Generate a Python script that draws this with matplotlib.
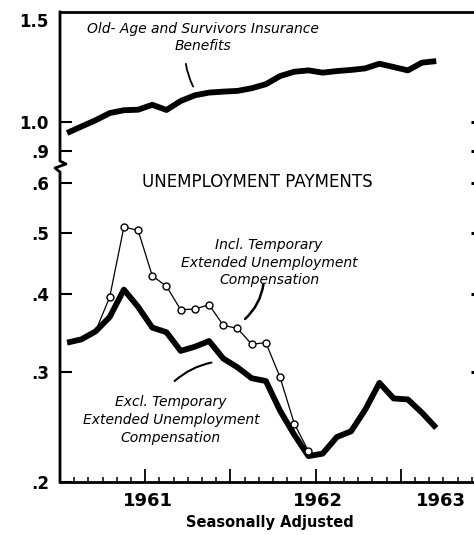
import numpy as np
import matplotlib
matplotlib.use('Agg')
import matplotlib.pyplot as plt
import matplotlib.transforms as mtransforms

# monthly values, billions of dollars, Jan 1961 .. Mar 1963
months = np.arange(27)
oasi = [0.961, 0.984, 1.007, 1.034, 1.045, 1.047, 1.066, 1.046, 1.081, 1.104,
        1.115, 1.119, 1.122, 1.133, 1.150, 1.185, 1.204, 1.210, 1.200, 1.207,
        1.212, 1.219, 1.240, 1.225, 1.210, 1.245, 1.252]
excl_teuc = [0.334, 0.338, 0.348, 0.367, 0.406, 0.381, 0.353, 0.347, 0.324, 0.329,
             0.336, 0.315, 0.305, 0.293, 0.290, 0.260, 0.238, 0.220, 0.222, 0.236,
             0.241, 0.261, 0.288, 0.272, 0.271, 0.258, 0.244]
# incl. temporary extended compensation, Mar 1961 .. Jun 1962
incl_months = np.arange(2, 18)
incl_teuc = [0.348, 0.395, 0.511, 0.505, 0.427, 0.411, 0.377, 0.378, 0.384, 0.356,
             0.352, 0.332, 0.334, 0.294, 0.248, 0.224]

y_ticks = [0.2, 0.3, 0.4, 0.5, 0.6, 0.9, 1.0]
y_labels = ['.2', '.3', '.4', '.5', '.6', '.9', '1.0']
years = ['1961', '1962', '1963']
year_pos = [5.7, 17.7, 26.3]

# broken log scale: squeeze the range between .62 and .88
lo, hi, gw = np.log10(0.62), np.log10(0.88), 0.02815
L_pts = [-6, lo, hi, 6]
F_pts = [-6, lo, lo + gw, lo + gw + 6 - hi]

def fwd(y):
    return np.interp(np.log10(np.clip(y, 1e-6, None)), L_pts, F_pts)

def inv(f):
    return 10 ** np.interp(f, F_pts, L_pts)

plt.rcParams['font.family'] = 'DejaVu Sans'
fig = plt.figure(figsize=(4.74, 5.35), dpi=100)
ax = fig.add_axes([60 / 474, 53 / 535, 414 / 474, 470 / 535])
ax.set_yscale('function', functions=(fwd, inv))
ax.set_ylim(0.2, 1.5)
ax.set_xlim(-0.25, 28.66)

ax.plot(months, oasi, color='black', lw=4.2, solid_joinstyle='round', solid_capstyle='butt')
ax.plot(months, excl_teuc, color='black', lw=4.2, solid_joinstyle='round', solid_capstyle='butt')
ax.plot(incl_months[1:], incl_teuc[1:], color='black', lw=0.9, marker='o', ms=5,
        mfc='white', mec='black', mew=1.0, zorder=3)
ax.plot(incl_months[:2], incl_teuc[:2], color='black', lw=0.9)

# spines
for s in ['right', 'left']:
    ax.spines[s].set_visible(False)
ax.spines['top'].set_linewidth(2)
ax.spines['bottom'].set_linewidth(2)
zx = np.array([0, 0, -5, 6, 0, 0]) / 414
zy = (482 - np.array([482, 172, 168, 164, 161, 12])) / 470
ax.plot(zx, zy, color='black', lw=2, transform=ax.transAxes, clip_on=False)

# y ticks
ax.set_yticks(y_ticks, y_labels)
ax.yaxis.set_minor_locator(matplotlib.ticker.NullLocator())
ax.tick_params(axis='y', direction='in', length=8.5, width=1.5, pad=8,
               labelsize=12)
for t in ax.get_yticklabels():
    t.set_fontweight('bold')
ax.annotate('1.5', xy=(0, 1.5), xycoords=('axes fraction', 'data'),
            xytext=(-8, -7), textcoords='offset points', ha='right', va='center',
            fontsize=12, fontweight='bold')

ax2 = ax.twinx()
ax2.set_yscale('function', functions=(fwd, inv))
ax2.set_ylim(ax.get_ylim())
ax2.set_yticks(y_ticks[1:], [''] * (len(y_ticks) - 1))
ax2.yaxis.set_minor_locator(matplotlib.ticker.NullLocator())
ax2.tick_params(axis='y', direction='in', length=2, width=2.2, pad=0)
for s in ax2.spines.values():
    s.set_visible(False)

# x ticks: months minor, half-years major
ax.set_xticks(np.arange(5.5, 29, 6), [''] * 4)
ax.set_xticks(np.arange(-0.5, 29, 1), minor=True)
ax.tick_params(axis='x', which='major', direction='in', length=9.5, width=1.3)
ax.tick_params(axis='x', which='minor', direction='in', length=3.5, width=1.1)
xt = mtransforms.blended_transform_factory(ax.transData, ax.transAxes)
for p, lab in zip(year_pos, years):
    ax.text(p, -0.041, lab, transform=xt, ha='center', va='center',
            fontsize=13, fontweight='bold')
fig.text(270 / 474, 1 - 522 / 535, 'Seasonally Adjusted', ha='center', va='center',
         fontsize=10.5, fontweight='bold')

# labels
ax.text(0.345, 0.946, 'Old- Age and Survivors Insurance\nBenefits', transform=ax.transAxes,
        ha='center', va='center', fontsize=10, style='italic', linespacing=1.3)
ax.text(0.476, 0.638, 'UNEMPLOYMENT PAYMENTS', transform=ax.transAxes,
        ha='center', va='center', fontsize=12)
ax.text(0.505, 0.467, 'Incl. Temporary\nExtended Unemployment\nCompensation',
        transform=ax.transAxes, ha='center', va='center', fontsize=10,
        style='italic', linespacing=1.35)
ax.text(0.268, 0.132, 'Excl. Temporary\nExtended Unemployment\nCompensation',
        transform=ax.transAxes, ha='center', va='center', fontsize=10,
        style='italic', linespacing=1.35)

ax.annotate('', xy=(8.97, 1.13), xytext=(8.34, 1.252),
            arrowprops=dict(arrowstyle='-', lw=1.3, connectionstyle='arc3,rad=0.1'))
ax.annotate('', xy=(13.85, 0.418), xytext=(12.39, 0.362),
            arrowprops=dict(arrowstyle='-', lw=1.8, connectionstyle='arc3,rad=0.2'))
ax.annotate('', xy=(10.36, 0.311), xytext=(7.43, 0.288),
            arrowprops=dict(arrowstyle='-', lw=1.5, connectionstyle='arc3,rad=-0.15'))

fig.savefig('out.png', dpi=100)
